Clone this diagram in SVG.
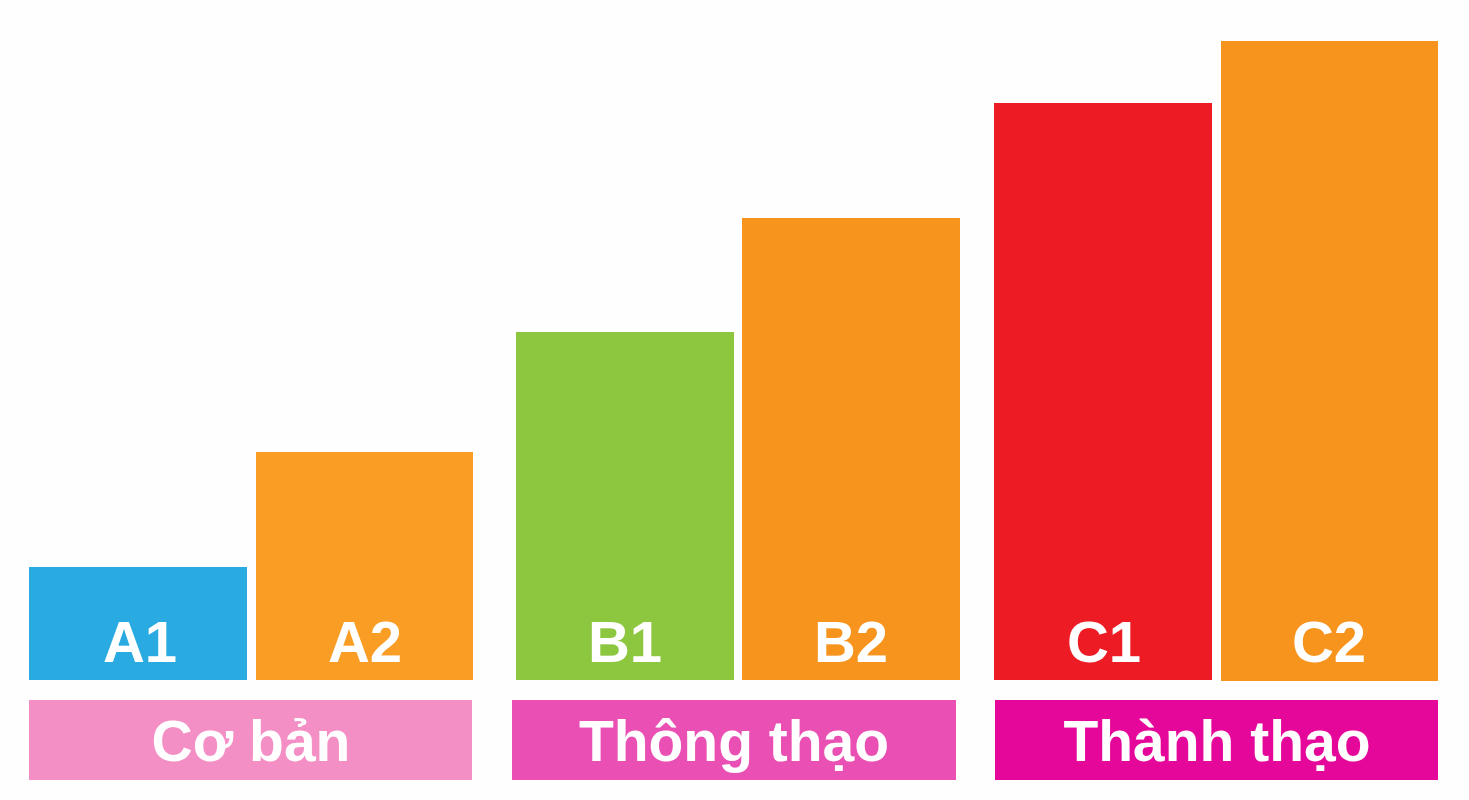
<svg xmlns="http://www.w3.org/2000/svg" width="1469" height="800" viewBox="0 0 1469 800">
<style>
.t{font-family:"Liberation Sans",Arial,sans-serif;font-weight:bold;fill:#fff;text-anchor:middle}
.lv{font-size:58px}
.gp{font-size:57px}
</style>
<rect width="1469" height="800" fill="#fefefe"/>
<g id="A1"><rect x="29" y="567" width="218" height="113" fill="#29abe2"/><text class="t lv" x="140" y="662">A1</text></g>
<g id="A2"><rect x="256" y="452" width="217" height="228" fill="#f99d25"/><text class="t lv" x="365" y="662">A2</text></g>
<g id="B1"><rect x="516" y="332" width="218" height="348" fill="#8dc63f"/><text class="t lv" x="625" y="662">B1</text></g>
<g id="B2"><rect x="742" y="218" width="218" height="462" fill="#f7941d"/><text class="t lv" x="851" y="662">B2</text></g>
<g id="C1"><rect x="994" y="103" width="218" height="577" fill="#ed1c24"/><text class="t lv" x="1104" y="662">C1</text></g>
<g id="C2"><rect x="1221" y="41" width="217" height="640" fill="#f7941d"/><text class="t lv" x="1329" y="662">C2</text></g>
<g id="coban"><rect x="29" y="700" width="443" height="80" fill="#f48fc6"/><text class="t gp" x="251" y="761">Cơ bản</text></g>
<g id="thongthao"><rect x="512" y="700" width="444" height="80" fill="#ea4fb4"/><text class="t gp" x="734" y="761">Thông thạo</text></g>
<g id="thanhthao"><rect x="995" y="700" width="443" height="80" fill="#e5079a"/><text class="t gp" x="1217" y="761">Thành thạo</text></g>
<g id="connectors"></g>
</svg>
